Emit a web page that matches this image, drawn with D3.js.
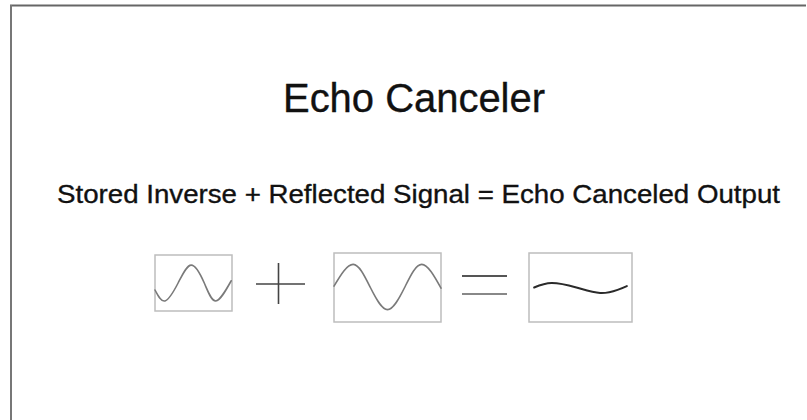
<!DOCTYPE html>
<html>
<head>
<meta charset="utf-8">
<script src="https://cdn.jsdelivr.net/npm/d3@7"></script>
<style>
  html, body { margin: 0; padding: 0; background: #fff; }
  svg { display: block; }
  text { font-family: "Liberation Sans", Arial, Helvetica, sans-serif; fill: #111; stroke: #111; stroke-width: 0.35; }
</style>
</head>
<body>
<svg id="chart" width="807" height="420"></svg>
<script>
// ---- Data ----
const title = "Echo Canceler";
const equationText = "Stored Inverse + Reflected Signal = Echo Canceled Output";
const signalNames = ["Stored Inverse", "Reflected Signal", "Echo Canceled Output"];
const operators = ["+", "="];

// time (0..1 across the panel) and amplitude (-1..1, up positive)
const storedInverseT = [0, 0.13, 0.30, 0.47, 0.64, 0.79, 0.99];
const storedInverseA = [-0.25, -0.64, 0, 0.64, 0, -0.64, 0.08];
const reflectedT = [0, 0.18, 0.34, 0.50, 0.66, 0.82, 1.0];
const reflectedA = [0.04, 0.67, 0, -0.64, 0, 0.67, -0.02];
const canceledT = [0.05, 0.22, 0.46, 0.69, 0.86, 0.95];
const canceledA = [0.0, 0.13, 0.0, -0.16, -0.07, 0.04];

// ---- Layout / style ----
const W = 807, H = 420;
const panels = [
  { x: 155, y: 255, w: 77, h: 56, stroke: "#7a7a7a", sw: 1.6 },
  { x: 334, y: 253, w: 107, h: 69, stroke: "#7a7a7a", sw: 1.6 },
  { x: 529, y: 253, w: 103, h: 69, stroke: "#2a2a2a", sw: 2 }
];
const series = [
  d3.zip(storedInverseT, storedInverseA),
  d3.zip(reflectedT, reflectedA),
  d3.zip(canceledT, canceledA)
];

const svg = d3.select("#chart");
svg.append("rect").attr("width", W).attr("height", H).attr("fill", "#fff");

// frame (top and left edges)
svg.append("line").attr("x1", 10).attr("x2", 806).attr("y1", 5.5).attr("y2", 5.5)
  .attr("stroke", "#666").attr("stroke-width", 2);
svg.append("line").attr("x1", 11).attr("x2", 11).attr("y1", 5).attr("y2", H)
  .attr("stroke", "#777").attr("stroke-width", 2);

// title
svg.append("text").attr("x", 283).attr("y", 112)
  .attr("font-size", 40).attr("textLength", 262).attr("lengthAdjust", "spacingAndGlyphs")
  .text(title);

// equation line
svg.append("text").attr("x", 57).attr("y", 203)
  .attr("font-size", 26).attr("textLength", 723).attr("lengthAdjust", "spacingAndGlyphs")
  .text(equationText);

// panels with waves
panels.forEach((p, i) => {
  const g = svg.append("g").attr("class", "panel").attr("aria-label", signalNames[i]);
  g.append("rect").attr("x", p.x).attr("y", p.y).attr("width", p.w).attr("height", p.h)
    .attr("fill", "none").attr("stroke", "#bdbdbd").attr("stroke-width", 1.5);
  const x = d3.scaleLinear().domain([0, 1]).range([p.x, p.x + p.w]);
  const y = d3.scaleLinear().domain([-1, 1]).range([p.y + p.h, p.y]);
  const line = d3.line().x(d => x(d[0])).y(d => y(d[1])).curve(d3.curveNatural);
  g.append("path").datum(series[i]).attr("d", line)
    .attr("fill", "none").attr("stroke", p.stroke).attr("stroke-width", p.sw)
    .attr("stroke-linecap", "round");
});

// operators between panels
const opG = svg.append("g");
// plus
opG.append("line").attr("x1", 256).attr("x2", 305).attr("y1", 284).attr("y2", 284)
  .attr("stroke", "#444").attr("stroke-width", 1.6);
opG.append("line").attr("x1", 278.5).attr("x2", 278.5).attr("y1", 263).attr("y2", 304)
  .attr("stroke", "#444").attr("stroke-width", 1.6);
// equals
opG.append("line").attr("x1", 462).attr("x2", 507).attr("y1", 276).attr("y2", 276)
  .attr("stroke", "#555").attr("stroke-width", 2);
opG.append("line").attr("x1", 462).attr("x2", 507).attr("y1", 294).attr("y2", 294)
  .attr("stroke", "#888").attr("stroke-width", 2);
opG.append("title").text(operators.join(" "));
</script>
</body>
</html>
